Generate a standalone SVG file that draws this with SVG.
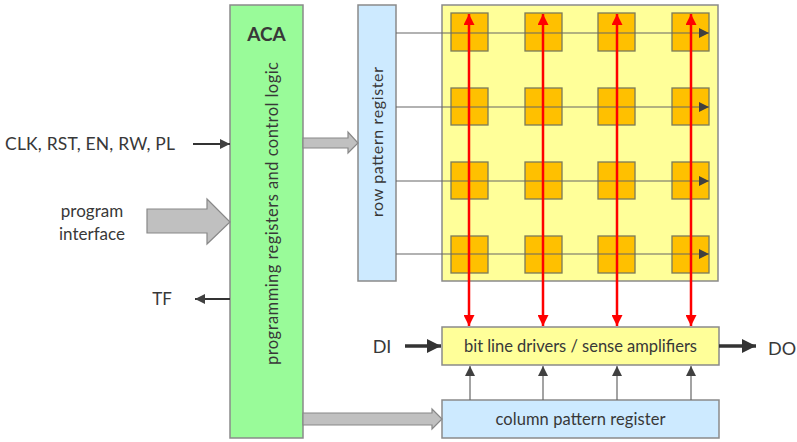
<svg xmlns="http://www.w3.org/2000/svg" width="797" height="442" viewBox="0 0 797 442">
  <defs>
    <marker id="dark" viewBox="0 0 10 10" refX="10" refY="5" markerWidth="10" markerHeight="10" markerUnits="userSpaceOnUse" orient="auto">
      <path d="M0,0 L10,5 L0,10 Z" fill="#404040"/>
    </marker>
    <marker id="thick" viewBox="0 0 10 10" refX="10" refY="5" markerWidth="14" markerHeight="14" markerUnits="userSpaceOnUse" orient="auto">
      <path d="M0,0 L10,5 L0,10 Z" fill="#333"/>
    </marker>
    <marker id="red" viewBox="0 0 10 10" refX="10" refY="5" markerWidth="11" markerHeight="11" markerUnits="userSpaceOnUse" orient="auto-start-reverse">
      <path d="M0,0 L10,5 L0,10 Z" fill="#ff0000"/>
    </marker>
  </defs>
  <style>
    .box { stroke: #8a8a8a; stroke-width: 1.5; }
    .green { fill: #99fb99; }
    .blue { fill: #cdeaff; }
    .yellow { fill: #ffff99; }
    .cell { fill: #ffc000; stroke: #7a7a5a; stroke-width: 1.3; }
    .txt { font-family: Lato, "Open Sans", sans-serif; fill: #383838; }
    .row { stroke: #666; stroke-width: 1.2; fill: none; }
    .bit { stroke: #ff0000; stroke-width: 2.5; fill: none; }
    .col { stroke: #666; stroke-width: 1.2; fill: none; }
    .sig { stroke: #333; stroke-width: 2; fill: none; }
    .bus { stroke: #333; stroke-width: 3.5; fill: none; }
    .fat { fill: #c0c0c0; stroke: #888; stroke-width: 1.2; }
  </style>

  <!-- control block -->
  <g id="aca">
    <rect class="box green" x="230" y="5" width="73" height="433"/>
    <text class="txt" x="266.5" y="41" font-size="19" font-weight="bold" text-anchor="middle">ACA</text>
    <text class="txt" font-size="16.5" text-anchor="middle" textLength="303" transform="translate(277.5,213.5) rotate(-90)">programming registers and control logic</text>
  </g>

  <!-- row pattern register -->
  <g id="row-register">
    <rect class="box blue" x="358" y="5" width="38" height="276"/>
    <text class="txt" font-size="16" text-anchor="middle" textLength="150" transform="translate(382.5,142) rotate(-90)">row pattern register</text>
  </g>

  <!-- memory array -->
  <g id="array">
    <rect class="box yellow" x="442" y="5" width="276" height="276"/>
    <g id="cells">
      <rect class="cell" x="451" y="13" width="37" height="38"/>
      <rect class="cell" x="525" y="13" width="37" height="38"/>
      <rect class="cell" x="598" y="13" width="37" height="38"/>
      <rect class="cell" x="672" y="13" width="37" height="38"/>
      <rect class="cell" x="451" y="88" width="37" height="37"/>
      <rect class="cell" x="525" y="88" width="37" height="37"/>
      <rect class="cell" x="598" y="88" width="37" height="37"/>
      <rect class="cell" x="672" y="88" width="37" height="37"/>
      <rect class="cell" x="451" y="162" width="37" height="37"/>
      <rect class="cell" x="525" y="162" width="37" height="37"/>
      <rect class="cell" x="598" y="162" width="37" height="37"/>
      <rect class="cell" x="672" y="162" width="37" height="37"/>
      <rect class="cell" x="451" y="236" width="37" height="37"/>
      <rect class="cell" x="525" y="236" width="37" height="37"/>
      <rect class="cell" x="598" y="236" width="37" height="37"/>
      <rect class="cell" x="672" y="236" width="37" height="37"/>
    </g>
  </g>

  <!-- bit line drivers -->
  <g id="drivers">
    <rect class="box yellow" x="442" y="327" width="277" height="38"/>
    <text class="txt" x="580.5" y="352" font-size="16.5" text-anchor="middle" textLength="233">bit line drivers / sense amplifiers</text>
  </g>

  <!-- column pattern register -->
  <g id="column-register">
    <rect class="box blue" x="442" y="400" width="277" height="38"/>
    <text class="txt" x="580.5" y="425" font-size="16.5" text-anchor="middle" textLength="170">column pattern register</text>
  </g>

  <!-- external signal labels -->
  <g id="labels">
    <text class="txt" x="5" y="150" font-size="17.5" textLength="170">CLK, RST, EN, RW, PL</text>
    <text class="txt" x="92" y="217" font-size="17" text-anchor="middle">program</text>
    <text class="txt" x="92" y="240" font-size="17" text-anchor="middle">interface</text>
    <text class="txt" x="162" y="305" font-size="17" text-anchor="middle">TF</text>
    <text class="txt" x="382" y="353" font-size="18" text-anchor="middle">DI</text>
    <text class="txt" x="782" y="355" font-size="18" text-anchor="middle">DO</text>
  </g>

  <!-- connectors -->
  <g id="connectors">
    <!-- word lines -->
    <line class="row" x1="396" y1="33" x2="709" y2="33" marker-end="url(#dark)"/>
    <line class="row" x1="396" y1="107" x2="709" y2="107" marker-end="url(#dark)"/>
    <line class="row" x1="396" y1="181" x2="709" y2="181" marker-end="url(#dark)"/>
    <line class="row" x1="396" y1="254" x2="709" y2="254" marker-end="url(#dark)"/>
    <!-- bit lines -->
    <line class="bit" x1="469" y1="14" x2="469" y2="326" marker-start="url(#red)" marker-end="url(#red)"/>
    <line class="bit" x1="543" y1="14" x2="543" y2="326" marker-start="url(#red)" marker-end="url(#red)"/>
    <line class="bit" x1="617" y1="14" x2="617" y2="326" marker-start="url(#red)" marker-end="url(#red)"/>
    <line class="bit" x1="691" y1="14" x2="691" y2="326" marker-start="url(#red)" marker-end="url(#red)"/>
    <!-- column selects -->
    <line class="col" x1="470" y1="400" x2="470" y2="366" marker-end="url(#dark)"/>
    <line class="col" x1="543" y1="400" x2="543" y2="366" marker-end="url(#dark)"/>
    <line class="col" x1="617" y1="400" x2="617" y2="366" marker-end="url(#dark)"/>
    <line class="col" x1="691" y1="400" x2="691" y2="366" marker-end="url(#dark)"/>
    <!-- control signals -->
    <line class="sig" x1="193" y1="144" x2="230" y2="144" marker-end="url(#dark)"/>
    <line class="sig" x1="230" y1="299" x2="195" y2="299" marker-end="url(#dark)"/>
    <!-- data in / out -->
    <line class="bus" x1="405" y1="346" x2="441" y2="346" marker-end="url(#thick)"/>
    <line class="bus" x1="719" y1="346" x2="756" y2="346" marker-end="url(#thick)"/>
    <!-- wide buses -->
    <path class="fat" d="M147,209 H207 V199 L230,222 L207,244 V233 H147 Z"/>
    <path class="fat" d="M303,138 H348 V132 L358,143 L348,153 V148 H303 Z"/>
    <path class="fat" d="M303,413 H432 V409 L442,419 L432,429 V425 H303 Z"/>
  </g>
</svg>
